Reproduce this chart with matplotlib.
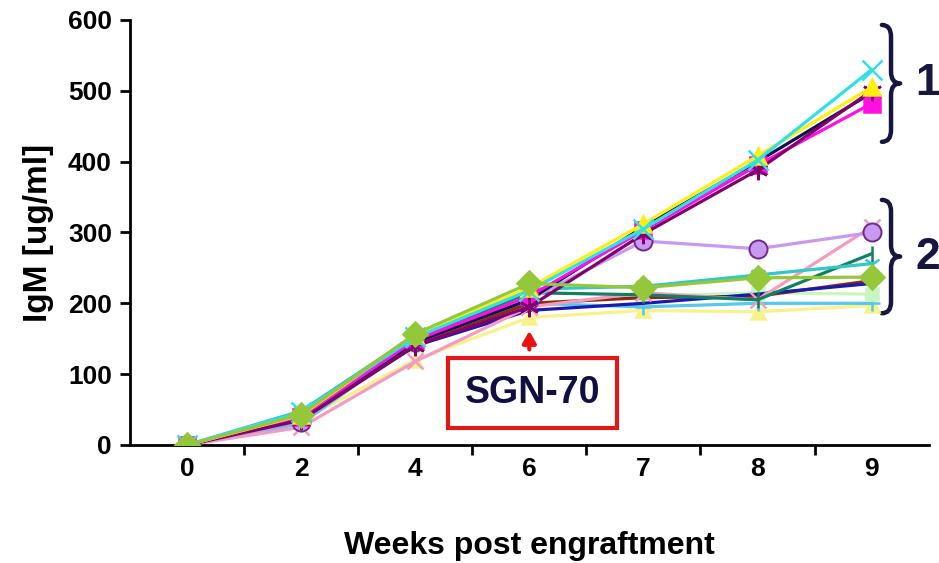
import matplotlib
matplotlib.use("Agg")
import matplotlib.pyplot as plt
from matplotlib.path import Path
from matplotlib.patches import PathPatch

plt.rcParams['font.family'] = ['Liberation Sans', 'DejaVu Sans']
plt.rcParams['font.weight'] = 'bold'

weeks = ['0', '2', '4', '6', '7', '8', '9']
yticks = [0, 100, 200, 300, 400, 500, 600]

# group 2 (plateau after SGN-70)
lilac_circle = [0, 33, 145, 205, 288, 277, 300]
green_diamond = [0, 43, 157, 228, 222, 236, 237]
teal_line = [0, 38, 150, 215, 212, 205, 270]
pink_x = [0, 25, 118, 195, 215, 205, 308]
turquoise_line = [0, 48, 155, 220, 224, 240, 256]
darkblue_line = [0, 38, 140, 190, 200, 213, 228]
lightgreen_sq = [0, 35, 140, 200, 210, 215, 213]
sky_plus = [0, 30, 145, 200, 195, 200, 200]
paleyellow_tri = [0, 35, 120, 180, 190, 188, 197]
maroon_line = [0, 36, 142, 200, 208, 210, 232]

# group 1 (continued rise)
cyan_x = [0, 46, 152, 218, 305, 402, 530]
yellow_tri = [0, 42, 155, 222, 312, 408, 505]
purple_star = [0, 35, 140, 195, 298, 388, 500]
magenta_sq = [0, 40, 148, 210, 303, 395, 482]
navy_line = [0, 38, 145, 205, 308, 400, 497]

fig = plt.figure(figsize=(9.39, 5.63), dpi=100)
ax = fig.add_axes([0.1384, 0.2096, 0.8506, 0.7549])
x = list(range(len(weeks)))

lw = 2.3
series = [
    (paleyellow_tri, '#f8f28a', '^', 10, 3),
    (sky_plus, '#55c8f0', '+', 11, 3),
    (lightgreen_sq, '#c8f5c0', 's', 9, 3),
    (maroon_line, '#8b2a10', None, 0, 3),
    (darkblue_line, '#1a1ab0', None, 0, 3),
    (pink_x, '#f59ac0', 'x', 12, 3),
    (teal_line, '#108060', '|', 11, 3),
    (turquoise_line, '#30c8c8', '1', 13, 3),
    (lilac_circle, '#c899ee', 'o', 13, 3.5),
    (navy_line, '#101050', None, 0, 4),
    (magenta_sq, '#ff10e0', 's', 11, 4),
    (purple_star, '#800070', (6, 2, 0), 14, 4),
    (yellow_tri, '#ffee10', '^', 12, 4),
    (cyan_x, '#30e0e8', 'x', 14, 4),
    (green_diamond, '#94c83a', 'D', 12, 5),
]
for vals, col, mk, ms, zo in series:
    kw = dict(color=col, lw=lw, zorder=zo)
    if mk is not None:
        ec = '#702890' if mk == 'o' else col
        kw.update(marker=mk, markersize=ms, markerfacecolor=col,
                  markeredgecolor=ec, markeredgewidth=1.8 if mk != 'o' else 1.4)
    ax.plot(x, vals, **kw)

ax.set_xlim(-0.5, 6.5)
ax.set_ylim(0, 600)
ax.spines['top'].set_visible(False)
ax.spines['right'].set_visible(False)
for s in ['left', 'bottom']:
    ax.spines[s].set_linewidth(2.0)
    ax.spines[s].set_color('black')
    ax.spines[s].set_zorder(2)

ax.set_yticks(yticks)
ax.set_yticklabels([str(v) for v in yticks], fontsize=19, fontweight='bold')
ax.tick_params(axis='y', direction='out', length=7, width=2, pad=6)

ax.set_xticks([i - 0.5 for i in range(1, len(weeks))])
ax.set_xticklabels([])
ax.set_xticks(x, minor=True)
ax.set_xticklabels(weeks, minor=True, fontsize=19, fontweight='bold')
ax.tick_params(axis='x', which='major', direction='out', length=7, width=2)
ax.tick_params(axis='x', which='minor', length=0, pad=9)

ax.set_ylabel('IgM [ug/ml]', fontsize=24, fontweight='bold', labelpad=10)
ax.set_xlabel('Weeks post engraftment', fontsize=23, fontweight='bold', labelpad=36)

# SGN-70 annotation
ax.annotate('', xy=(3, 165), xytext=(3, 131),
            arrowprops=dict(arrowstyle='-|>,head_width=0.4,head_length=0.7',
                            color='#ee1010', lw=3), zorder=5)
ax.text(3.03, 73, 'SGN-70', fontsize=27, fontweight='bold', color='#101040',
        ha='center', va='center', zorder=6,
        bbox=dict(boxstyle='square,pad=0.45', facecolor='white',
                  edgecolor='#e01818', linewidth=3))

def brace(ax, x0, w, ytop, ybot, color):
    ymid = (ytop + ybot) / 2
    xm = x0 + w * 0.5
    h = ytop - ybot
    d = h * 0.1
    verts = [(x0, ytop), (xm, ytop), (xm, ytop - d),
             (xm, ymid + d),
             (xm, ymid), (x0 + w, ymid),
             (xm, ymid), (xm, ymid - d),
             (xm, ybot + d),
             (xm, ybot), (x0, ybot)]
    codes = [Path.MOVETO, Path.CURVE3, Path.CURVE3,
             Path.LINETO,
             Path.CURVE3, Path.CURVE3,
             Path.CURVE3, Path.CURVE3,
             Path.LINETO,
             Path.CURVE3, Path.CURVE3]
    ax.add_patch(PathPatch(Path(verts, codes), facecolor='none',
                           edgecolor=color, lw=3.2, clip_on=False,
                           capstyle='round', joinstyle='round'))

navy = '#161640'
brace(ax, 6.09, 0.16, 593, 428, navy)
brace(ax, 6.09, 0.16, 346, 186, navy)
ax.text(6.49, 511, '1', fontsize=32, fontweight='bold', color=navy,
        ha='center', va='center', clip_on=False)
ax.text(6.49, 264, '2', fontsize=32, fontweight='bold', color=navy,
        ha='center', va='center', clip_on=False)

fig.savefig('out.png', dpi=100)
